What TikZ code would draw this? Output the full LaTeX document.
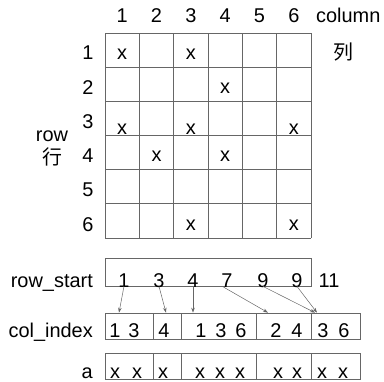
\documentclass[tikz,border=0pt]{standalone}
\usepackage{fontspec}
\setmainfont{Liberation Sans}
\newfontfamily\cjkfont{Noto Sans CJK SC}
\usetikzlibrary{arrows.meta,calc}

\begin{document}
\begin{tikzpicture}[x=1bp,y=-1bp,
		txt/.style={
			font=\fontsize{20}{24}\selectfont,
			inner sep=0pt,
			anchor=base
		},
		cell/.style={
			draw=black!60,
			line width=0.7bp,
			inner sep=0pt,
			minimum height=26bp
		},
		gridline/.style={draw=black!60, line width=0.7bp},
		ptr/.style={draw=black!60, line width=0.5bp, -{Stealth[length=5bp,width=3.5bp]}}
		]
		\useasboundingbox (0,0) rectangle (384,382);
		
		% Matrix grid
		\foreach \i in {0,...,6} {
			\draw[gridline] (105+34.333*\i,33) -- (105+34.333*\i,238);
			\draw[gridline] (105,33+34.167*\i) -- (311,33+34.167*\i);
		}
		
		% Column numbers
		\node[txt] (c1) at (122.2,22) {1};
		\node[txt] (c2) at (156.5,22) {2};
		\node[txt] (c3) at (190.8,22) {3};
		\node[txt] (c4) at (225.2,22) {4};
		\node[txt] (c5) at (259.5,22) {5};
		\node[txt] (c6) at (293.8,22) {6};
		\node[txt, anchor=base west] (collbl) at (316,22) {column};
		\node[txt] (colcjk) at (343,59) {\cjkfont 列};
		
		% Row numbers
		\node[txt] (r1) at (88,59) {1};
		\node[txt] (r2) at (88,94) {2};
		\node[txt] (r3) at (88,128) {3};
		\node[txt] (r4) at (88,162) {4};
		\node[txt] (r5) at (88,196) {5};
		\node[txt] (r6) at (88,231) {6};
		\node[txt] (rowlbl) at (52,141) {row};
		\node[txt] (rowcjk) at (52,164) {\cjkfont 行};
		
		% Nonzero entries
		\node[txt] (x11) at (122.2,59) {x};
		\node[txt] (x13) at (190.8,59) {x};
		\node[txt] (x24) at (225.2,93) {x};
		\node[txt] (x31) at (122.2,134) {x};
		\node[txt] (x33) at (190.8,134) {x};
		\node[txt] (x36) at (293.8,134) {x};
		\node[txt] (x42) at (156.5,161) {x};
		\node[txt] (x44) at (225.2,161) {x};
		\node[txt] (x63) at (190.8,230) {x};
		\node[txt] (x66) at (293.8,230) {x};
		
		% row_start
		\node[cell, minimum width=206bp, minimum height=28bp] (rsbox) at (208,272) {};
		\node[txt, anchor=base east] (rslbl) at (93,287) {row\_start};
		\node[txt] (rs1) at (124,287) {1};
		\node[txt] (rs2) at (159,287) {3};
		\node[txt] (rs3) at (193,287) {4};
		\node[txt] (rs4) at (227,287) {7};
		\node[txt] (rs5) at (263,287) {9};
		\node[txt] (rs6) at (297,287) {9};
		\node[txt] (rs7) at (329,287) {11};
		
		% col_index
		\node[cell, minimum width=48bp] (cib1) at (129,326) {};
		\node[cell, minimum width=28bp] (cib2) at (167,326) {};
		\node[cell, minimum width=75bp] (cib3) at (218.5,326) {};
		\node[cell, minimum width=55bp] (cib4) at (283.5,326) {};
		\node[cell, minimum width=49bp] (cib5) at (335.5,326) {};
		\node[txt, anchor=base east] (cilbl) at (93,337) {col\_index};
		\node[txt] (ci1) at (115,337) {1};
		\node[txt] (ci2) at (134,337) {3};
		\node[txt] (ci3) at (164,337) {4};
		\node[txt] (ci4) at (201,337) {1};
		\node[txt] (ci5) at (221,337) {3};
		\node[txt] (ci6) at (241,337) {6};
		\node[txt] (ci7) at (276,337) {2};
		\node[txt] (ci8) at (297,337) {4};
		\node[txt] (ci9) at (323,337) {3};
		\node[txt] (ci10) at (344,337) {6};
		
		% a
		\node[cell, minimum width=48bp] (ab1) at (129,366) {};
		\node[cell, minimum width=28bp] (ab2) at (167,366) {};
		\node[cell, minimum width=75bp] (ab3) at (218.5,366) {};
		\node[cell, minimum width=55bp] (ab4) at (283.5,366) {};
		\node[cell, minimum width=49bp] (ab5) at (335.5,366) {};
		\node[txt, anchor=base east] (albl) at (93,378) {a};
		\node[txt] (a1) at (115,378) {x};
		\node[txt] (a2) at (137,378) {x};
		\node[txt] (a3) at (163,378) {x};
		\node[txt] (a4) at (200,378) {x};
		\node[txt] (a5) at (220,378) {x};
		\node[txt] (a6) at (240,378) {x};
		\node[txt] (a7) at (278,378) {x};
		\node[txt] (a8) at (297,378) {x};
		\node[txt] (a9) at (322,378) {x};
		\node[txt] (a10) at (343,378) {x};
		
		% Pointers
		\draw[ptr] ([yshift=1bp]rs1.south) -- ($(ci1 |- cib1.north)+(4,0)$);
		\draw[ptr] ([yshift=1bp]rs2.south) -- ($(ci3 |- cib2.north)+(2,0)$);
		\draw[ptr] ([yshift=1bp]rs3.south) -- ($(ci4 |- cib3.north)+(-8,0)$);
		\draw[ptr] ([yshift=1bp,xshift=-5bp]rs4.south) -- ($(ci7 |- cib4.north)+(-8,0)$);
		\draw[ptr] ([yshift=1bp]rs5.south) -- ($(ci9 |- cib5.north)+(-8,0)$);
		\draw[ptr] ([yshift=1bp]rs6.south) -- ($(ci9 |- cib5.north)+(-6,0)$);
		
	\end{tikzpicture}
\end{document}
